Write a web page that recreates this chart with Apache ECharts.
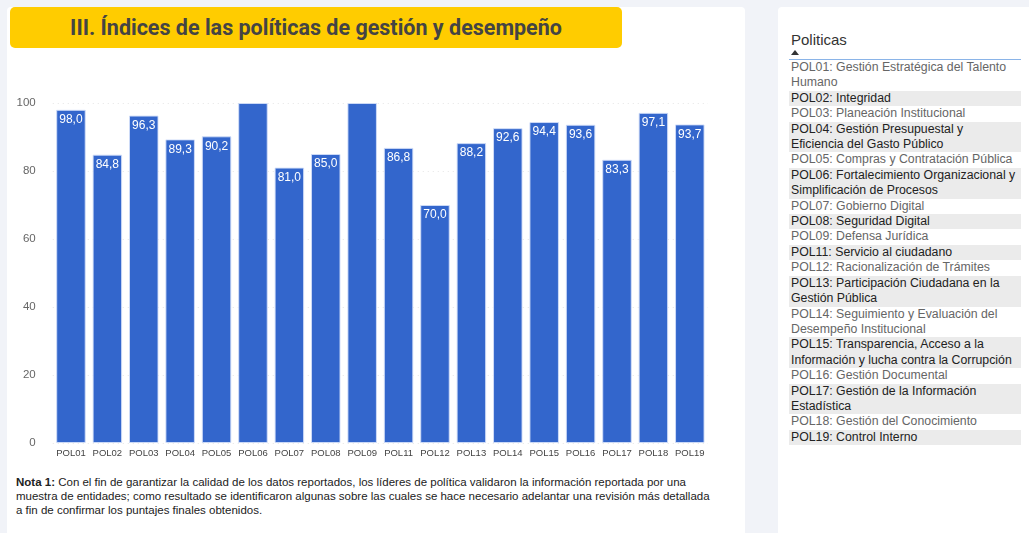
<!DOCTYPE html>
<html><head><meta charset="utf-8">
<script src="https://cdn.jsdelivr.net/npm/echarts@6/dist/echarts.min.js"></script>
<style>
html,body{margin:0;padding:0;width:1029px;height:533px;overflow:hidden;background:#f1f3f8;font-family:"Liberation Sans",Arial,sans-serif;}
#card{position:absolute;left:7px;top:7px;width:738px;height:540px;background:#fff;border-radius:4px;}
#card2{position:absolute;left:778px;top:7px;width:260px;height:540px;background:#fff;border-radius:4px;}
#title{position:absolute;left:10px;top:7px;width:612px;height:41px;background:#ffcc00;border-radius:5px;color:#444;font-family:Roboto,sans-serif;font-weight:bold;font-size:21.5px;line-height:41px;text-align:center;}
#chart{position:absolute;left:7px;top:60px;width:738px;height:410px;}
#note{position:absolute;left:16px;top:475px;width:720px;font-size:11.5px;line-height:14px;color:#222;}
#ptitle{position:absolute;left:791px;top:31px;font-size:15px;color:#333;}
#tri{position:absolute;left:791px;top:50px;width:0;height:0;border-left:4px solid transparent;border-right:4px solid transparent;border-bottom:5px solid #333;}
#tbl{position:absolute;left:789px;top:59px;width:232px;border-top:1px solid #8ab4e8;}
#tbl div{font-size:12.3px;line-height:15.4px;padding-left:2px;padding-right:5px;}
#tbl div.o{background:#fff;color:#666;}
#tbl div.e{background:#ebebeb;color:#222;}
</style></head>
<body>
<div id="card"></div>
<div id="card2"></div>
<div id="title">III. Índices de las políticas de gestión y desempeño</div>
<div id="chart"></div>
<div id="note"><b>Nota 1:</b> Con el fin de garantizar la calidad de los datos reportados, los líderes de política validaron la información reportada por una<br>muestra de entidades; como resultado se identificaron algunas sobre las cuales se hace necesario adelantar una revisión más detallada<br>a fin de confirmar los puntajes finales obtenidos.</div>
<div id="ptitle">Politicas</div>
<div id="tri"></div>
<div id="tbl"></div>
<script>
var categories = ["POL01","POL02","POL03","POL04","POL05","POL06","POL07","POL08","POL09","POL11","POL12","POL13","POL14","POL15","POL16","POL17","POL18","POL19"];
var values = [98.0,84.8,96.3,89.3,90.2,100.0,81.0,85.0,100.0,86.8,70.0,88.2,92.6,94.4,93.6,83.3,97.1,93.7];
var yTicks = [0,20,40,60,80,100];
var policies = [
"POL01: Gestión Estratégica del Talento Humano",
"POL02: Integridad",
"POL03: Planeación Institucional",
"POL04: Gestión Presupuestal y Eficiencia del Gasto Público",
"POL05: Compras y Contratación Pública",
"POL06: Fortalecimiento Organizacional y Simplificación de Procesos",
"POL07: Gobierno Digital",
"POL08: Seguridad Digital",
"POL09: Defensa Jurídica",
"POL11: Servicio al ciudadano",
"POL12: Racionalización de Trámites",
"POL13: Participación Ciudadana en la Gestión Pública",
"POL14: Seguimiento y Evaluación del Desempeño Institucional",
"POL15: Transparencia, Acceso a la Información y lucha contra la Corrupción",
"POL16: Gestión Documental",
"POL17: Gestión de la Información Estadística",
"POL18: Gestión del Conocimiento",
"POL19: Control Interno"
];
var tbl = document.getElementById('tbl');
policies.forEach(function(p,i){var d=document.createElement('div');d.className=(i%2===0)?'o':'e';d.textContent=p;tbl.appendChild(d);});

var chart = echarts.init(document.getElementById('chart'));
chart.setOption({
  animation:false,
  grid:{left:45.75,top:43,width:655.25,height:340,containLabel:false},
  xAxis:{type:'category',data:categories,axisLine:{show:false},axisTick:{show:false},
    axisLabel:{color:'#444',fontSize:9.5,margin:5,interval:0,fontFamily:'Liberation Sans, Arial'}},
  yAxis:{type:'value',min:yTicks[0],max:yTicks[yTicks.length-1],interval:20,
    axisLabel:{color:'#666',fontSize:11.5,margin:17,fontFamily:'Liberation Sans, Arial'},
    splitLine:{lineStyle:{color:'#e4e4e4',type:[1,4]}}},
  series:[{type:'bar',data:values.map(function(v){return {value:v,label:{show:v<100}};}),
    barCategoryGap:'19%',
    itemStyle:{color:'#3366cc',borderColor:'rgba(210,222,248,0.9)',borderWidth:1},
    label:{show:true,position:'insideTop',distance:4,color:'#fff',fontSize:12,fontFamily:'Liberation Sans, Arial',
      formatter:function(p){return p.value.toFixed(1).replace('.',',');}}
  }]
});
</script>
</body></html>
